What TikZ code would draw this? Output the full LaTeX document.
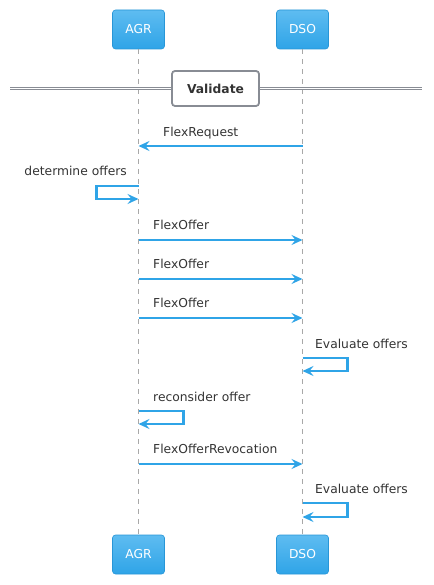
\documentclass[tikz,border=0pt]{standalone}
\usepackage{fontspec}
\setmainfont{DejaVu Sans}
\usetikzlibrary{positioning,arrows.meta}
\definecolor{msgblue}{RGB}{47,164,231}
\definecolor{boxtop}{RGB}{94,188,241}
\definecolor{boxline}{RGB}{40,150,215}
\definecolor{divgray}{RGB}{136,140,148}
\definecolor{txtgray}{RGB}{51,51,51}
\definecolor{lifegray}{RGB}{168,168,168}
\tikzset{%
  actor/.style={draw=boxline, line width=0.6pt, rounded corners=3pt, top color=boxtop,
    bottom color=msgblue, minimum width=52pt, minimum height=39pt, inner sep=0pt,
    text=white, font=\fontsize{12.3}{14}\selectfont},% participant box
  lifeline/.style={draw=lifegray, line width=0.9pt, dash pattern=on 5pt off 5pt},
  msg/.style={draw=msgblue, line width=2.9pt, line join=miter,
    -{Stealth[length=11pt,width=10pt,inset=4pt]}},% message arrow
  msglabel/.style={text=txtgray, anchor=base west, inner sep=0pt,
    font=\fontsize{12.3}{14}\selectfont},
  divider/.style={draw=divgray, line width=1pt, double, double distance=1.3pt},
  dividerbox/.style={draw=divgray, line width=1.8pt, rounded corners=3pt, fill=white,
    minimum width=87pt, minimum height=35pt, inner sep=0pt, text=txtgray,
    font=\fontsize{12.3}{14}\selectfont\bfseries}
}

\begin{document}
\begin{tikzpicture}[x=1pt, y=-1pt]
\useasboundingbox (0,0) rectangle (433,585);

% participants
\node[actor] (agrtop) at (138.5, 29.5) {AGR};
\node[actor] (dsotop) at (302.5, 29.5) {DSO};
\node[actor] (agrbot) at (138.5, 554.5) {AGR};
\node[actor] (dsobot) at (302.5, 554.5) {DSO};

\draw[lifeline] (agrtop) -- (agrbot);
\draw[lifeline] (dsotop) -- (dsobot);

% divider
\coordinate (divl) at (10, 88.8);
\coordinate (divr) at (422, 88.8);
\draw[divider] (divl) -- (divr);
\node[dividerbox] (validate) at (215.5, 88.5) {Validate};

% message rows
\coordinate (r1) at (0, 146);
\coordinate (r2a) at (0, 186);
\coordinate (r2b) at (0, 199);
\coordinate (r3) at (0, 240);
\coordinate (r4) at (0, 279);
\coordinate (r5) at (0, 318);
\coordinate (r6a) at (0, 358);
\coordinate (r6b) at (0, 371);
\coordinate (r7a) at (0, 411);
\coordinate (r7b) at (0, 424);
\coordinate (r8) at (0, 464);
\coordinate (r9a) at (0, 503);
\coordinate (r9b) at (0, 517);

\draw[msg] (dsotop |- r1) -- (agrtop |- r1);
\node[msglabel] (lreq) at (163, 137) {FlexRequest};

\draw[msg] (agrtop |- r2a) -- ++(-42,0) -- ++(0,13) -- (agrtop |- r2b);
\node[msglabel, anchor=base east] (ldet) at (127, 176) {determine offers};

\draw[msg] (agrtop |- r3) -- (dsotop |- r3);
\node[msglabel] (loff1) at (153, 229) {FlexOffer};
\draw[msg] (agrtop |- r4) -- (dsotop |- r4);
\node[msglabel] (loff2) at (153, 268) {FlexOffer};
\draw[msg] (agrtop |- r5) -- (dsotop |- r5);
\node[msglabel] (loff3) at (153, 307) {FlexOffer};

\draw[msg] (dsotop |- r6a) -- ++(45,0) -- ++(0,13) -- (dsotop |- r6b);
\node[msglabel] (leval1) at (315, 348) {Evaluate offers};

\draw[msg] (agrtop |- r7a) -- ++(45,0) -- ++(0,13) -- (agrtop |- r7b);
\node[msglabel] (lrec) at (153, 401) {reconsider offer};

\draw[msg] (agrtop |- r8) -- (dsotop |- r8);
\node[msglabel] (lrev) at (153, 453) {FlexOfferRevocation};

\draw[msg] (dsotop |- r9a) -- ++(45,0) -- ++(0,14) -- (dsotop |- r9b);
\node[msglabel] (leval2) at (315, 493) {Evaluate offers};
\end{tikzpicture}
\end{document}
